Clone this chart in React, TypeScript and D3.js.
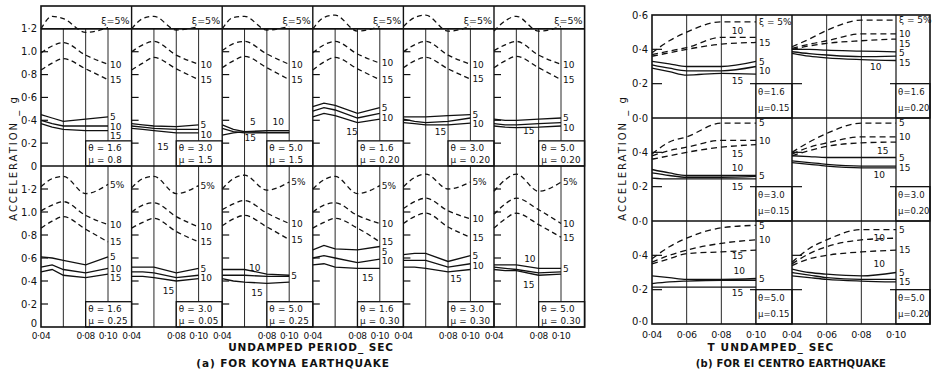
import React from "react";
import * as d3 from "d3";

// ---------------- DATA ----------------
const periodsKoyna = [0.04, 0.05, 0.06, 0.08, 0.1];
const periodsElCentro = [0.04, 0.05, 0.06, 0.08, 0.1];
const xTicksKoyna = [0.04, 0.08, 0.1];
const xTicksElCentro = [0.04, 0.06, 0.08, 0.1];
const yTickValuesKoyna = [0, 0.2, 0.4, 0.6, 0.8, 1.0, 1.2];
const yTickLabelsKoyna = ["0", "0·2", "0·4", "0·6", "0·8", "1.0", "1·2"];
const yTickValuesElCentro = [0, 0.2, 0.4];
const yTickLabelsElCentro = ["0·0", "0·2", "0·4"];
const yTopLabelElCentro = "0·6";

const koynaTheta = ["1.6", "3.0", "5.0", "1.6", "3.0", "5.0", "1.6", "3.0", "5.0", "1.6", "3.0", "5.0"];
const koynaMu = ["0.8", "1.5", "1.5", "0.20", "0.20", "0.20", "0.25", "0.05", "0.25", "0.30", "0.30", "0.30"];

const koynaDashed5 = [
  [1.2, 1.31, 1.29, 1.17, 1.21],
  [1.2, 1.29, 1.31, 1.19, 1.22],
  [1.2, 1.3, 1.31, 1.19, 1.22],
  [1.2, 1.3, 1.32, 1.18, 1.22],
  [1.22, 1.3, 1.32, 1.18, 1.22],
  [1.18, 1.27, 1.31, 1.18, 1.22],
  [1.22, 1.29, 1.31, 1.16, 1.24],
  [1.21, 1.29, 1.31, 1.16, 1.23],
  [1.2, 1.29, 1.32, 1.19, 1.26],
  [1.2, 1.28, 1.31, 1.16, 1.23],
  [1.22, 1.3, 1.33, 1.2, 1.26],
  [1.18, 1.28, 1.33, 1.18, 1.26],
];
const koynaDashed10 = [
  [0.99, 1.05, 1.08, 0.97, 0.89],
  [1.0, 1.06, 1.09, 0.97, 0.89],
  [1.01, 1.07, 1.09, 0.98, 0.89],
  [0.99, 1.06, 1.09, 0.98, 0.9],
  [1.0, 1.06, 1.09, 0.97, 0.89],
  [1.01, 1.06, 1.09, 0.97, 0.89],
  [1.01, 1.06, 1.09, 0.97, 0.89],
  [1.0, 1.06, 1.08, 0.96, 0.87],
  [1.02, 1.07, 1.1, 0.99, 0.9],
  [1.0, 1.06, 1.08, 0.97, 0.9],
  [1.03, 1.09, 1.12, 1.01, 0.94],
  [0.98, 1.07, 1.12, 1.02, 0.9],
];
const koynaDashed15 = [
  [0.84, 0.9, 0.94, 0.85, 0.755],
  [0.84, 0.9, 0.95, 0.85, 0.755],
  [0.86, 0.92, 0.96, 0.86, 0.755],
  [0.84, 0.91, 0.95, 0.85, 0.755],
  [0.86, 0.92, 0.95, 0.85, 0.76],
  [0.86, 0.92, 0.96, 0.86, 0.755],
  [0.86, 0.92, 0.96, 0.85, 0.74],
  [0.86, 0.91, 0.945, 0.83, 0.74],
  [0.88, 0.94, 0.97, 0.87, 0.76],
  [0.86, 0.91, 0.945, 0.86, 0.74],
  [0.9, 0.96, 0.99, 0.87, 0.78],
  [0.86, 0.94, 0.99, 0.89, 0.78],
];
const koynaSolid5 = [
  [0.45, 0.42, 0.39, 0.41, 0.43],
  [0.37, 0.36, 0.35, 0.345, 0.36],
  [0.36, 0.32, 0.3, 0.31, 0.31],
  [0.52, 0.55, 0.53, 0.46, 0.51],
  [0.43, 0.43, 0.43, 0.44, 0.45],
  [0.41, 0.4, 0.4, 0.41, 0.42],
  [0.61, 0.6, 0.58, 0.54, 0.61],
  [0.52, 0.52, 0.52, 0.47, 0.51],
  [0.5, 0.5, 0.5, 0.46, 0.45],
  [0.67, 0.71, 0.68, 0.67, 0.7],
  [0.63, 0.64, 0.64, 0.57, 0.62],
  [0.54, 0.54, 0.54, 0.51, 0.51],
];
const koynaSolid10 = [
  [0.4, 0.37, 0.35, 0.35, 0.35],
  [0.35, 0.34, 0.33, 0.32, 0.32],
  [0.33, 0.3, 0.29, 0.29, 0.29],
  [0.48, 0.51, 0.49, 0.42, 0.46],
  [0.41, 0.39, 0.38, 0.39, 0.42],
  [0.37, 0.36, 0.36, 0.37, 0.38],
  [0.52, 0.54, 0.5, 0.47, 0.51],
  [0.48, 0.48, 0.47, 0.43, 0.45],
  [0.45, 0.45, 0.45, 0.44, 0.44],
  [0.6, 0.62, 0.6, 0.56, 0.59],
  [0.58, 0.58, 0.58, 0.52, 0.55],
  [0.52, 0.51, 0.5, 0.47, 0.48],
];
const koynaSolid15 = [
  [0.37, 0.34, 0.32, 0.31, 0.31],
  [0.33, 0.32, 0.31, 0.29, 0.29],
  [0.27, 0.29, 0.3, 0.295, 0.295],
  [0.43, 0.46, 0.44, 0.38, 0.41],
  [0.38, 0.37, 0.36, 0.36, 0.375],
  [0.35, 0.34, 0.335, 0.34, 0.35],
  [0.48, 0.5, 0.45, 0.43, 0.46],
  [0.44, 0.44, 0.43, 0.4, 0.42],
  [0.42, 0.4, 0.39, 0.38, 0.39],
  [0.54, 0.55, 0.52, 0.51, 0.51],
  [0.52, 0.52, 0.51, 0.48, 0.5],
  [0.5, 0.49, 0.49, 0.45, 0.46],
];
// which curves are labelled at their right-hand end
const koynaRightLabels = [
  ["d10", "d15", "s5", "s10", "s15"],
  ["d10", "d15", "s5", "s10"],
  ["d10", "d15"],
  ["d10", "d15", "s5", "s10"],
  ["d10", "d15", "s5", "s10"],
  ["d10", "d15", "s5", "s10"],
  ["d5", "d10", "d15", "s5", "s10", "s15"],
  ["d5", "d10", "d15", "s5", "s10"],
  ["d5", "d10", "d15", "s5"],
  ["d5", "d10", "d15", "s5", "s10"],
  ["d5", "d10", "d15", "s5", "s10"],
  ["d5", "d10", "d15", "s5"],
];
// labels written inside the plot: [text, period, acceleration]
const koynaInsideLabels: [string, number, number][][] = [
  [],
  [["15", 0.063, 0.17]],
  [["5", 0.065, 0.39], ["10", 0.085, 0.39], ["15", 0.06, 0.25]],
  [["15", 0.07, 0.3]],
  [["15", 0.068, 0.3]],
  [["15", 0.066, 0.31]],
  [],
  [["15", 0.068, 0.32]],
  [["10", 0.064, 0.52], ["15", 0.066, 0.3]],
  [["15", 0.084, 0.43]],
  [["15", 0.082, 0.42]],
  [["10", 0.067, 0.59], ["15", 0.066, 0.37]],
];

const elTheta = ["1.6", "1.6", "3.0", "3.0", "5.0", "5.0"];
const elMu = ["0.15", "0.20", "0.15", "0.20", "0.15", "0.20"];
const elDashed5 = [
  [0.38, 0.45, 0.5, 0.56, 0.56],
  [0.415, 0.46, 0.51, 0.57, 0.57],
  [0.39, 0.46, 0.49, 0.57, 0.57],
  [0.4, 0.46, 0.51, 0.57, 0.57],
  [0.38, 0.45, 0.5, 0.56, 0.575],
  [0.36, 0.44, 0.49, 0.55, 0.55],
];
const elDashed10 = [
  [0.37, 0.39, 0.41, 0.47, 0.47],
  [0.405, 0.43, 0.45, 0.49, 0.49],
  [0.38, 0.41, 0.43, 0.47, 0.47],
  [0.39, 0.43, 0.455, 0.49, 0.49],
  [0.36, 0.4, 0.43, 0.47, 0.49],
  [0.35, 0.41, 0.45, 0.49, 0.5],
];
const elDashed15 = [
  [0.36, 0.38, 0.4, 0.43, 0.44],
  [0.4, 0.42, 0.435, 0.45, 0.46],
  [0.36, 0.38, 0.4, 0.43, 0.445],
  [0.38, 0.41, 0.435, 0.455, 0.46],
  [0.35, 0.38, 0.41, 0.42, 0.43],
  [0.34, 0.38, 0.4, 0.42, 0.43],
];
const elSolid5 = [
  [0.33, 0.315, 0.3, 0.3, 0.33],
  [0.4, 0.4, 0.395, 0.39, 0.385],
  [0.3, 0.28, 0.265, 0.265, 0.265],
  [0.38, 0.375, 0.37, 0.37, 0.37],
  [0.28, 0.27, 0.26, 0.26, 0.265],
  [0.32, 0.3, 0.29, 0.28, 0.3],
];
const elSolid10 = [
  [0.31, 0.29, 0.275, 0.275, 0.3],
  [0.386, 0.375, 0.367, 0.357, 0.36],
  [0.28, 0.265, 0.255, 0.255, 0.26],
  [0.35, 0.34, 0.33, 0.32, 0.32],
  [0.235, 0.245, 0.25, 0.255, 0.255],
  [0.3, 0.285, 0.27, 0.26, 0.26],
];
const elSolid15 = [
  [0.29, 0.27, 0.25, 0.26, 0.255],
  [0.377, 0.36, 0.35, 0.34, 0.335],
  [0.25, 0.245, 0.245, 0.245, 0.245],
  [0.34, 0.33, 0.32, 0.31, 0.31],
  [0.215, 0.215, 0.215, 0.215, 0.215],
  [0.28, 0.27, 0.26, 0.25, 0.245],
];
const elRightLabels = [
  ["d5", "d15", "s5", "s10"],
  ["d5", "d10", "d15", "s5", "s15"],
  ["d5", "d10", "s5"],
  ["d5", "d10", "s5", "s15"],
  ["d5", "d10", "s5"],
  ["d5", "d15", "s5", "s15"],
];
const elInsideLabels: [string, number, number][][] = [
  [["10", 0.086, 0.51], ["15", 0.086, 0.215]],
  [["10", 0.085, 0.3]],
  [["15", 0.086, 0.39], ["10", 0.086, 0.31], ["15", 0.086, 0.2]],
  [["15", 0.089, 0.41], ["10", 0.087, 0.27]],
  [["15", 0.086, 0.4], ["10", 0.087, 0.31], ["15", 0.086, 0.18]],
  [["10", 0.087, 0.5], ["10", 0.087, 0.35]],
];

// ---------------- DRAWING ----------------
const W = 932;
const H = 374;
const FONT = "'DejaVu Sans', 'Liberation Sans', sans-serif";
const INK = "#111";
const DASH = "5,3.5";

type Item = { text: string; y: number };
function spread(items: Item[], gap: number): Item[] {
  const s = items.map((d) => ({ ...d })).sort((a, b) => a.y - b.y);
  for (let i = 1; i < s.length; i++) if (s[i].y - s[i - 1].y < gap) s[i].y = s[i - 1].y + gap;
  return s;
}

export default function App() {
  const els: React.ReactNode[] = [];
  let k = 0;
  const key = () => `e${k++}`;

  // ======== (a) Koyna ========
  const aLeft = 41;
  const aColW = 90.6;
  const aRight = aLeft + 6 * aColW;
  const aPlotW = 67;
  const aY = [
    d3.scaleLinear().domain([0, 1.4]).range([166, 6]),
    d3.scaleLinear().domain([0, 1.4]).range([327, 166]),
  ];

  for (let p = 0; p < 12; p++) {
    const row = Math.floor(p / 6);
    const col = p % 6;
    const L = aLeft + col * aColW;
    const R = L + aColW;
    const x = d3.scaleLinear().domain([0.04, 0.1]).range([L, L + aPlotW]);
    const y = aY[row];
    const topY = row === 0 ? y(1.2) : y(1.4);
    const boxTop = y(0.22);
    // grid
    els.push(<line key={key()} x1={x(0.06)} x2={x(0.06)} y1={topY} y2={y(0)} stroke={INK} strokeWidth={0.9} />);
    els.push(<line key={key()} x1={x(0.08)} x2={x(0.08)} y1={topY} y2={y(0)} stroke={INK} strokeWidth={0.9} />);
    els.push(<line key={key()} x1={x(0.1)} x2={x(0.1)} y1={topY} y2={boxTop} stroke={INK} strokeWidth={0.9} />);
    // box
    els.push(<rect key={key()} x={x(0.08)} y={boxTop} width={R - x(0.08)} height={y(0) - boxTop} fill="#fff" stroke={INK} strokeWidth={1.3} />);
    els.push(
      <text key={key()} x={x(0.08) + 2.5} y={boxTop + 10.5} fontSize={8.8} fill={INK} letterSpacing={0.2}>
        {`θ = ${koynaTheta[p]}`}
      </text>
    );
    els.push(
      <text key={key()} x={x(0.08) + 2.5} y={boxTop + 22} fontSize={8.8} fill={INK} letterSpacing={0.2}>
        {`μ = ${koynaMu[p]}`}
      </text>
    );
    // left ticks
    yTickValuesKoyna.forEach((v) => {
      if (v === 0 || (row === 0 && v >= 1.2)) return;
      els.push(<line key={key()} x1={L} x2={L + 7} y1={y(v)} y2={y(v)} stroke={INK} strokeWidth={1.2} />);
    });
    // curves
    const series: [string, number[], boolean][] = [
      ["d5", koynaDashed5[p], true],
      ["d10", koynaDashed10[p], true],
      ["d15", koynaDashed15[p], true],
      ["s5", koynaSolid5[p], false],
      ["s10", koynaSolid10[p], false],
      ["s15", koynaSolid15[p], false],
    ];
    series.forEach(([, vals, dashed]) => {
      const gen = d3
        .line<number>()
        .x((_, i) => x(periodsKoyna[i]))
        .y((d) => y(d))
        .curve(dashed ? d3.curveMonotoneX : d3.curveLinear);
      els.push(
        <path key={key()} d={gen(vals) || ""} fill="none" stroke={INK} strokeWidth={1.3} strokeDasharray={dashed ? DASH : undefined} />
      );
    });
    // right labels
    const txt: Record<string, string> = { d5: "5%", d10: "10", d15: "15", s5: "5", s10: "10", s15: "15" };
    const map: Record<string, number[]> = Object.fromEntries(series.map(([n, v]) => [n, v]));
    const items = koynaRightLabels[p].map((n) => ({ text: txt[n], y: y(map[n][map[n].length - 1]) + 3.3 }));
    spread(items, 9.5).forEach((it) =>
      els.push(
        <text key={key()} x={x(0.1) + 2} y={it.y} fontSize={9} fill={INK}>
          {it.text}
        </text>
      )
    );
    koynaInsideLabels[p].forEach(([t, px, v]) =>
      els.push(
        <text key={key()} x={x(px)} y={y(v) + 3.3} fontSize={9} fill={INK}>
          {t}
        </text>
      )
    );
    if (row === 0) {
      els.push(
        <text key={key()} x={R - 2} y={24} fontSize={9.5} fill={INK} textAnchor="end">
          ξ=5%
        </text>
      );
    }
    // x tick labels
    if (row === 1) {
      xTicksKoyna.forEach((t) =>
        els.push(
          <text key={key()} x={x(t)} y={339} fontSize={9} fill={INK} textAnchor="middle" letterSpacing={-0.4}>
            {t.toFixed(2).replace(".", "·")}
          </text>
        )
      );
    }
  }
  // frame of (a)
  els.push(<rect key={key()} x={aLeft} y={6} width={aRight - aLeft} height={327 - 6} fill="none" stroke={INK} strokeWidth={1.6} />);
  els.push(<line key={key()} x1={aLeft} x2={aRight} y1={166} y2={166} stroke={INK} strokeWidth={1.6} />);
  els.push(<line key={key()} x1={aLeft} x2={aRight} y1={aY[0](1.2)} y2={aY[0](1.2)} stroke={INK} strokeWidth={1.6} />);
  for (let c = 1; c < 6; c++) {
    const xx = aLeft + c * aColW;
    els.push(<line key={key()} x1={xx} x2={xx} y1={6} y2={327} stroke={INK} strokeWidth={1.4} />);
  }
  // y tick labels
  aY.forEach((y, r) =>
    yTickValuesKoyna.forEach((v, i) =>
      els.push(
        <text key={key()} x={37} y={r === 1 && v === 0 ? y(v) : y(v) + 3.5} fontSize={10} fill={INK} textAnchor="end">
          {yTickLabelsKoyna[i]}
        </text>
      )
    )
  );
  els.push(
    <text key={key()} transform="translate(17,158) rotate(-90)" fontSize={10} fill={INK} textAnchor="middle" letterSpacing={2}>
      ACCELERATION _ g
    </text>
  );
  els.push(
    <text key={key()} x={311} y={351} fontSize={10.5} fill={INK} textAnchor="middle" letterSpacing={0.9} fontWeight="bold">
      UNDAMPED PERIOD_ SEC
    </text>
  );
  els.push(
    <text key={key()} x={293} y={367} fontSize={10.5} fill={INK} textAnchor="middle" letterSpacing={0.9} fontWeight="bold">
      (a) FOR KOYNA EARTHQUAKE
    </text>
  );

  // ======== (b) El Centro ========
  const bCols = [
    { L: 652, R: 792 },
    { L: 792, R: 930 },
  ];
  const bPlotW = 104;
  const bRows = [
    d3.scaleLinear().domain([0, 0.6]).range([118, 15]),
    d3.scaleLinear().domain([0, 0.6]).range([221, 118]),
    d3.scaleLinear().domain([0, 0.6]).range([324, 221]),
  ];
  for (let p = 0; p < 6; p++) {
    const row = Math.floor(p / 2);
    const col = p % 2;
    const { L, R } = bCols[col];
    const x = d3.scaleLinear().domain([0.04, 0.1]).range([L, L + bPlotW]);
    const y = bRows[row];
    const boxTop = y(0.2);
    [0.06, 0.08].forEach((t) =>
      els.push(<line key={key()} x1={x(t)} x2={x(t)} y1={y(0.6)} y2={y(0)} stroke={INK} strokeWidth={0.9} />)
    );
    els.push(<line key={key()} x1={x(0.1)} x2={x(0.1)} y1={y(0.6)} y2={y(0)} stroke={INK} strokeWidth={1.2} />);
    els.push(<rect key={key()} x={x(0.1)} y={boxTop} width={R - x(0.1)} height={y(0) - boxTop} fill="#fff" stroke={INK} strokeWidth={1.3} />);
    els.push(<line key={key()} x1={x(0.1) - 6} x2={x(0.1)} y1={boxTop} y2={boxTop} stroke={INK} strokeWidth={1.2} />);
    els.push(
      <text key={key()} x={x(0.1) + 2} y={boxTop + 11} fontSize={8.5} fill={INK} letterSpacing={0.2}>
        {`θ=${elTheta[p]}`}
      </text>
    );
    els.push(
      <text key={key()} x={x(0.1) + 2} y={boxTop + 27} fontSize={8.5} fill={INK}>
        {`μ=${elMu[p]}`}
      </text>
    );
    yTickValuesElCentro.forEach((v) => {
      if (v === 0) return;
      els.push(<line key={key()} x1={L} x2={L + 10} y1={y(v)} y2={y(v)} stroke={INK} strokeWidth={1.2} />);
    });
    const series: [string, number[], boolean][] = [
      ["d5", elDashed5[p], true],
      ["d10", elDashed10[p], true],
      ["d15", elDashed15[p], true],
      ["s5", elSolid5[p], false],
      ["s10", elSolid10[p], false],
      ["s15", elSolid15[p], false],
    ];
    series.forEach(([, vals, dashed]) => {
      const gen = d3
        .line<number>()
        .x((_, i) => x(periodsElCentro[i]))
        .y((d) => y(d))
        .curve(d3.curveMonotoneX);
      els.push(
        <path key={key()} d={gen(vals) || ""} fill="none" stroke={INK} strokeWidth={1.3} strokeDasharray={dashed ? "6,4" : undefined} />
      );
    });
    const txt: Record<string, string> = {
      d5: row === 0 ? "ξ = 5%" : "5",
      d10: "10",
      d15: "15",
      s5: "5",
      s10: "10",
      s15: "15",
    };
    const map: Record<string, number[]> = Object.fromEntries(series.map(([n, v]) => [n, v]));
    const items = elRightLabels[p].map((n) => ({ text: txt[n], y: y(map[n][map[n].length - 1]) + 3.3 }));
    spread(items, 9.5).forEach((it) =>
      els.push(
        <text key={key()} x={x(0.1) + 3} y={it.y} fontSize={9} fill={INK}>
          {it.text}
        </text>
      )
    );
    elInsideLabels[p].forEach(([t, px, v]) =>
      els.push(
        <text key={key()} x={x(px)} y={y(v) + 3.3} fontSize={9} fill={INK}>
          {t}
        </text>
      )
    );
    if (row === 2) {
      xTicksElCentro.forEach((t) =>
        els.push(
          <text key={key()} x={x(t)} y={338} fontSize={9.5} fill={INK} textAnchor="middle" letterSpacing={-0.3}>
            {t.toFixed(2).replace(".", "·")}
          </text>
        )
      );
    }
  }
  els.push(<rect key={key()} x={652} y={15} width={930 - 652} height={324 - 15} fill="none" stroke={INK} strokeWidth={1.6} />);
  els.push(<line key={key()} x1={792} x2={792} y1={15} y2={324} stroke={INK} strokeWidth={1.5} />);
  [118, 221].forEach((yy) => els.push(<line key={key()} x1={652} x2={930} y1={yy} y2={yy} stroke={INK} strokeWidth={1.5} />));
  bRows.forEach((y, r) => {
    yTickValuesElCentro.forEach((v, i) =>
      els.push(
        <text key={key()} x={648} y={r === 2 && v === 0 ? y(v) + 1 : y(v) + 3.5} fontSize={10} fill={INK} textAnchor="end">
          {yTickLabelsElCentro[i]}
        </text>
      )
    );
    if (r === 0)
      els.push(
        <text key={key()} x={648} y={y(0.6) + 3.5} fontSize={10} fill={INK} textAnchor="end">
          {yTopLabelElCentro}
        </text>
      );
  });
  els.push(
    <text key={key()} transform="translate(626,158) rotate(-90)" fontSize={10} fill={INK} textAnchor="middle" letterSpacing={2}>
      ACCELERATION _ g
    </text>
  );
  els.push(
    <text key={key()} x={771} y={351} fontSize={10.5} fill={INK} textAnchor="middle" letterSpacing={1.1} fontWeight="bold">
      T    UNDAMPED_ SEC
    </text>
  );
  els.push(
    <text key={key()} x={791} y={367} fontSize={10} fill={INK} textAnchor="middle" letterSpacing={0.2} fontWeight="bold">
      (b) FOR El CENTRO EARTHQUAKE
    </text>
  );

  return (
    <svg
      width={W}
      height={H}
      viewBox={`0 0 ${W} ${H}`}
      style={{ position: "absolute", left: 0, top: 0, background: "#fff" }}
      fontFamily={FONT}
    >
      <rect x={0} y={0} width={W} height={H} fill="#fff" />
      {els}
    </svg>
  );
}
